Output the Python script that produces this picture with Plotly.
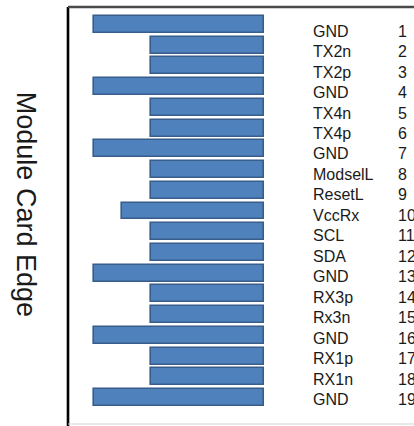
import plotly.graph_objects as go

pins = list(range(1, 20))
names = ["GND", "TX2n", "TX2p", "GND", "TX4n", "TX4p", "GND", "ModselL", "ResetL",
         "VccRx", "SCL", "SDA", "GND", "RX3p", "Rx3n", "GND", "RX1p", "RX1n", "GND"]
lengths = [6, 4, 4, 6, 4, 4, 6, 4, 4, 5, 4, 4, 6, 4, 4, 6, 4, 4, 6]

fig = go.Figure()
fig.add_trace(go.Bar(
    x=lengths, y=pins, orientation="h", width=0.82,
    marker=dict(color="#4f81bd", line=dict(color="#385d8a", width=1.6)),
    hoverinfo="skip", showlegend=False,
))

font = dict(family="Liberation Sans, Arial", size=16, color="#1a1a1a")
annotations = []
n_rows = len(pins)
for i, (p, n) in enumerate(zip(pins, names)):
    ys = -(6.5 - 4.0 * i / (n_rows - 1))
    annotations.append(dict(x=0.705, xref="paper", y=p, yref="y", text=n, showarrow=False,
                            xanchor="left", yanchor="middle", yshift=ys, borderpad=0, font=font))
    annotations.append(dict(x=0.951, xref="paper", y=p, yref="y", text=str(p), showarrow=False,
                            xanchor="left", yanchor="middle", yshift=ys, borderpad=0, font=font))

annotations.append(dict(x=0, xref="paper", xshift=-42, y=0.528, yref="paper",
                        text="Module Card Edge", showarrow=False, textangle=90,
                        xanchor="center", yanchor="middle",
                        font=dict(family="Liberation Sans, Arial", size=27, color="#1a1a1a")))

shapes = [
    dict(type="line", xref="paper", yref="paper", x0=0, x1=0, y0=-0.01, y1=1.0,
         line=dict(color="#000000", width=2.6)),
    dict(type="line", xref="paper", yref="paper", x0=0, x1=1.0, y0=1.0, y1=1.0,
         line=dict(color="#4a4a4a", width=2.5)),
    dict(type="line", xref="paper", yref="paper", x0=0, x1=1.0, y0=0, y1=0,
         line=dict(color="#d4d4d4", width=1.2)),
]

fig.update_layout(
    width=414, height=426,
    margin=dict(l=68, r=0, t=7, b=2),
    paper_bgcolor="white", plot_bgcolor="white",
    xaxis=dict(range=[6.918, -5.294], visible=False, fixedrange=True),
    yaxis=dict(range=[20.28, 0.155], visible=False, fixedrange=True),
    annotations=annotations, shapes=shapes,
    bargap=0,
)

fig.write_html("out.html", config={"displayModeBar": False},
               post_script="document.body.style.margin='0px';document.body.style.overflow='hidden';")
